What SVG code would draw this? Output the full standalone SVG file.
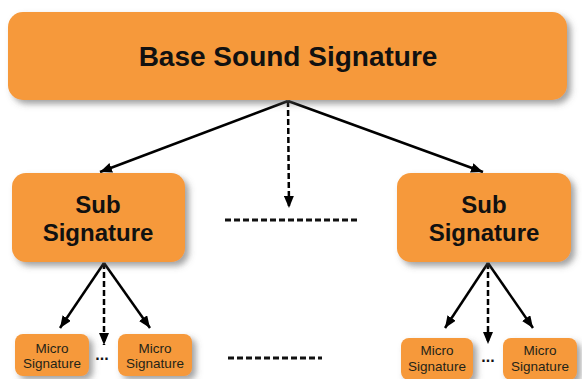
<svg xmlns="http://www.w3.org/2000/svg" width="582" height="379" viewBox="0 0 582 379">
  <style>
    .box { fill: #F6993A; filter: url(#shadow); }
    .big { font-family: "Liberation Sans", Arial, sans-serif; font-weight: bold; fill: #111; text-anchor: middle; }
    .small { font-family: "Liberation Sans", Arial, sans-serif; font-size: 13.5px; fill: #1f2418; text-anchor: middle; }
    .solid { stroke: #000; stroke-width: 2.5; fill: none; marker-end: url(#head); }
    .dashed { stroke: #000; stroke-width: 2.5; fill: none; stroke-dasharray: 6 3; marker-end: url(#head); }
    .rule { stroke: #111; stroke-width: 3; stroke-dasharray: 6 3; fill: none; }
    .dots { font-family: "Liberation Sans", Arial, sans-serif; font-size: 16px; font-weight: bold; fill: #111; text-anchor: middle; }
  </style>
  <defs>
    <filter id="shadow" x="-20%" y="-20%" width="140%" height="150%">
      <feDropShadow dx="4" dy="4" stdDeviation="3" flood-color="#555" flood-opacity="0.55"/>
    </filter>
    <marker id="head" viewBox="0 0 12 10" refX="12" refY="5" markerWidth="12" markerHeight="10" markerUnits="userSpaceOnUse" orient="auto">
      <path d="M0,0 L12,5 L0,10 Z" fill="#000"/>
    </marker>
  </defs>

  <rect width="582" height="379" fill="#fff"/>

  <!-- connectors -->
  <g id="connectors">
    <line class="solid" x1="288" y1="101" x2="100" y2="172"/>
    <line class="solid" x1="288" y1="101" x2="483" y2="172"/>
    <line class="dashed" x1="288" y1="101" x2="289" y2="208"/>
    <line class="rule" x1="225" y1="220" x2="360" y2="220"/>

    <line class="solid" x1="104" y1="263" x2="60" y2="328"/>
    <line class="solid" x1="104" y1="263" x2="150" y2="328"/>
    <line class="dashed" x1="104" y1="263" x2="104" y2="345"/>

    <line class="solid" x1="488" y1="263" x2="445" y2="328"/>
    <line class="solid" x1="488" y1="263" x2="533" y2="328"/>
    <line class="dashed" x1="488" y1="263" x2="488" y2="344"/>

    <line class="rule" x1="228" y1="358" x2="322" y2="358"/>
  </g>

  <!-- root -->
  <g id="base">
    <rect class="box" x="8" y="12" width="559" height="88" rx="15"/>
    <text class="big" x="288" y="66" font-size="28">Base Sound Signature</text>
  </g>

  <!-- second level -->
  <g id="sub-left">
    <rect class="box" x="12" y="173" width="173" height="89" rx="14"/>
    <text class="big" x="98" y="213" font-size="24">Sub</text>
    <text class="big" x="98" y="241" font-size="24">Signature</text>
  </g>
  <g id="sub-right">
    <rect class="box" x="397" y="173" width="174" height="89" rx="14"/>
    <text class="big" x="484" y="213" font-size="24">Sub</text>
    <text class="big" x="484" y="241" font-size="24">Signature</text>
  </g>

  <!-- leaves -->
  <g id="micro-1">
    <rect class="box" x="15" y="334" width="74" height="42" rx="8"/>
    <text class="small" x="52" y="353">Micro</text>
    <text class="small" x="52" y="368">Signature</text>
  </g>
  <g id="micro-2">
    <rect class="box" x="118" y="334" width="74" height="42" rx="8"/>
    <text class="small" x="155" y="353">Micro</text>
    <text class="small" x="155" y="368">Signature</text>
  </g>
  <g id="micro-3">
    <rect class="box" x="401" y="338" width="72" height="42" rx="8"/>
    <text class="small" x="437" y="355">Micro</text>
    <text class="small" x="437" y="371">Signature</text>
  </g>
  <g id="micro-4">
    <rect class="box" x="503" y="338" width="74" height="42" rx="8"/>
    <text class="small" x="540" y="355">Micro</text>
    <text class="small" x="540" y="371">Signature</text>
  </g>

  <text class="dots" x="102" y="360">...</text>
  <text class="dots" x="488" y="362">...</text>
</svg>
